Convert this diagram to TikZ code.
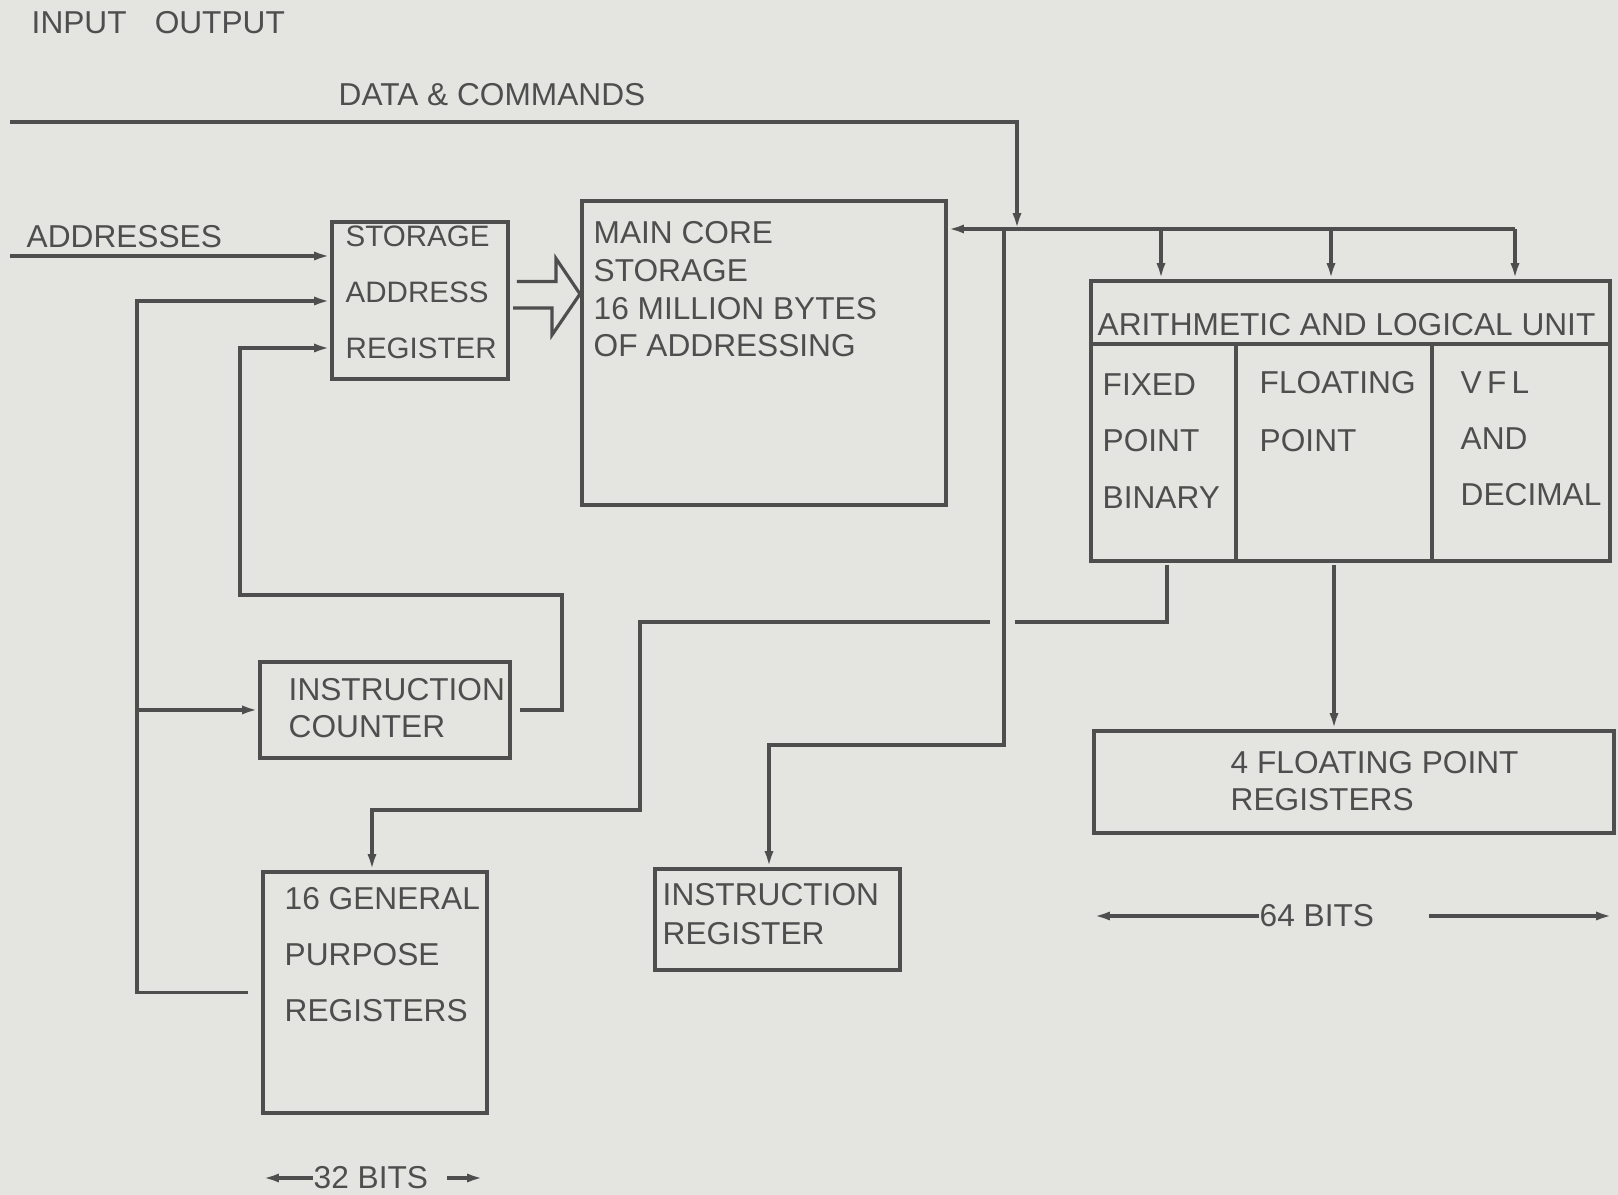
\documentclass[tikz,border=0pt]{standalone}
\usepackage{fontspec}
\setmainfont{Liberation Sans}
\usetikzlibrary{arrows.meta}
\definecolor{Paper}{HTML}{E4E4E1}
\definecolor{Ink}{HTML}{4E4E4E}

\begin{document}
\begin{tikzpicture}[x=0.01cm, y=-0.01cm,
    box/.style={draw=Ink, line width=1.1pt, anchor=north west, inner sep=0pt},
    txt/.style={text=Ink, inner sep=0pt, align=left, font=\fontsize{9}{#1}\selectfont},
    txt/.default=11,
    wire/.style={draw=Ink, line width=0.9pt},
    arr/.style={wire, -{Latex[length=4.5pt,width=2.6pt]}}]
    \fill[Paper] (0,0) rectangle (1618,1195);
    \useasboundingbox (0,0) rectangle (1618,1195);

    % blocks
    \node[box, minimum width=1.76cm, minimum height=1.57cm] (sar)  at (330,220)  {};
    \node[box, minimum width=3.64cm, minimum height=3.04cm] (core) at (580,199)  {};
    \node[box, minimum width=2.50cm, minimum height=0.96cm] (ic)   at (258,660)  {};
    \node[box, minimum width=2.24cm, minimum height=2.41cm] (gpr)  at (261,870)  {};
    \node[box, minimum width=2.45cm, minimum height=1.01cm] (ir)   at (653,867)  {};
    \node[box, minimum width=5.19cm, minimum height=2.80cm] (alu)  at (1089,279) {};
    \node[box, minimum width=5.20cm, minimum height=1.02cm] (fpr)  at (1092,729) {};
    \draw[wire, line width=1.1pt] (alu.west |- 0,344) -- (alu.east |- 0,344);
    \draw[wire, line width=1.1pt] (1236,344) -- (1236,344 |- alu.south);
    \draw[wire, line width=1.1pt] (1432,344) -- (1432,344 |- alu.south);

    % texts
    \node[txt, anchor=west] (io-lbl)  at (31,23)   {INPUT\hspace{8pt}OUTPUT};
    \node[txt, anchor=west] (dc-lbl)  at (338,95)  {DATA \& COMMANDS};
    \node[txt, anchor=west] (adr-lbl) at (26,237)  {ADDRESSES};
    \node[txt=16, anchor=north west, font=\fontsize{8.4}{16}\selectfont]
                                       (sar-t)  at (345,225)  {STORAGE\\ADDRESS\\REGISTER};
    \node[txt=10.7, anchor=north west] (core-t) at (593,221)  {MAIN CORE\\STORAGE\\16 MILLION BYTES\\OF ADDRESSING};
    \node[txt=10.5, anchor=north west] (ic-t)   at (288,678)  {INSTRUCTION\\COUNTER};
    \node[txt=15.9, anchor=north west] (gpr-t)  at (284,887)  {16 GENERAL\\PURPOSE\\REGISTERS};
    \node[txt=11.1, anchor=north west] (ir-t)   at (662,883)  {INSTRUCTION\\REGISTER};
    \node[txt, anchor=west]            (alu-t)  at (1097,325) {ARITHMETIC AND LOGICAL UNIT};
    \node[txt=16, anchor=north west]   (fix-t)  at (1102,373) {FIXED\\POINT\\BINARY};
    \node[txt=16.4, anchor=north west] (flo-t)  at (1259,371) {FLOATING\\POINT};
    \node[txt=15.9, anchor=north west] (vfl-t)  at (1460,371) {V\,F\,L\\AND\\DECIMAL};
    \node[txt=10.5, anchor=north west] (fpr-t)  at (1230,751) {4 FLOATING POINT\\REGISTERS};
    \node[txt, anchor=west] (b64) at (1259,916)  {64 BITS};
    \node[txt, anchor=west] (b32) at (313,1178)  {32 BITS};

    % free ends and bends
    \coordinate (io)   at (10,122);
    \coordinate (dc)   at (1017,229);
    \coordinate (busr) at (1515,229);
    \coordinate (ib)   at (1004,229);
    \coordinate (irc)  at (769,745);
    \coordinate (adr)  at (10,256);
    \coordinate (fbx)  at (137,301);
    \coordinate (icx)  at (562,595);
    \coordinate (icy)  at (240,348);
    \coordinate (ag)   at (1167,565);
    \coordinate (gapr) at (1015,622);
    \coordinate (gapl) at (990,622);
    \coordinate (ag2)  at (640,810);
    \coordinate (ag3)  at (372,810);
    \coordinate (b64a) at (1429,916);
    \coordinate (b64r) at (1612,916);
    \coordinate (b64l) at (1094,916);
    \coordinate (b32a) at (447,1178);
    \coordinate (b32r) at (483,1178);
    \coordinate (b32l) at (263,1178);

    % connectors
    \draw[arr] (io) -| (dc);
    \draw[arr] (busr) -- (busr -| core.east);
    \foreach \x in {1161,1331,1515}
        \draw[arr] (\x,229) -- (\x,229 |- alu.north);
    \draw[arr] (ib) |- (irc) -- (irc |- ir.north);
    \draw[arr] (adr) -- (adr -| sar.west);
    \draw[arr] ([xshift=-0.13cm]gpr.west) -| (fbx) -- (fbx -| sar.west);
    \draw[arr] (fbx |- ic.west) -- (ic.west);
    \draw[arr] ([xshift=0.08cm]ic.east) -| (icx) -| (icy) -- (icy -| sar.west);
    \draw[wire] (ag) |- (gapr);
    \draw[arr] (gapl) -| (ag2) -- (ag3) -- (ag3 |- gpr.north);
    \draw[arr] (1334,565) -- (1334,565 |- fpr.north);
    \draw[wire] ([shift={(7,-19)}]sar.east) -- ++(39,0) -- ++(0,-23)
        -- (core.west |- 0,294) -- ++(-28,41) -- ++(0,-27) -- ++(-39,0);
    \draw[arr] (b64.west) -- (b64l);
    \draw[arr] (b64a) -- (b64r);
    \draw[arr] (b32.west) -- (b32l);
    \draw[arr] (b32a) -- (b32r);
\end{tikzpicture}
\end{document}
